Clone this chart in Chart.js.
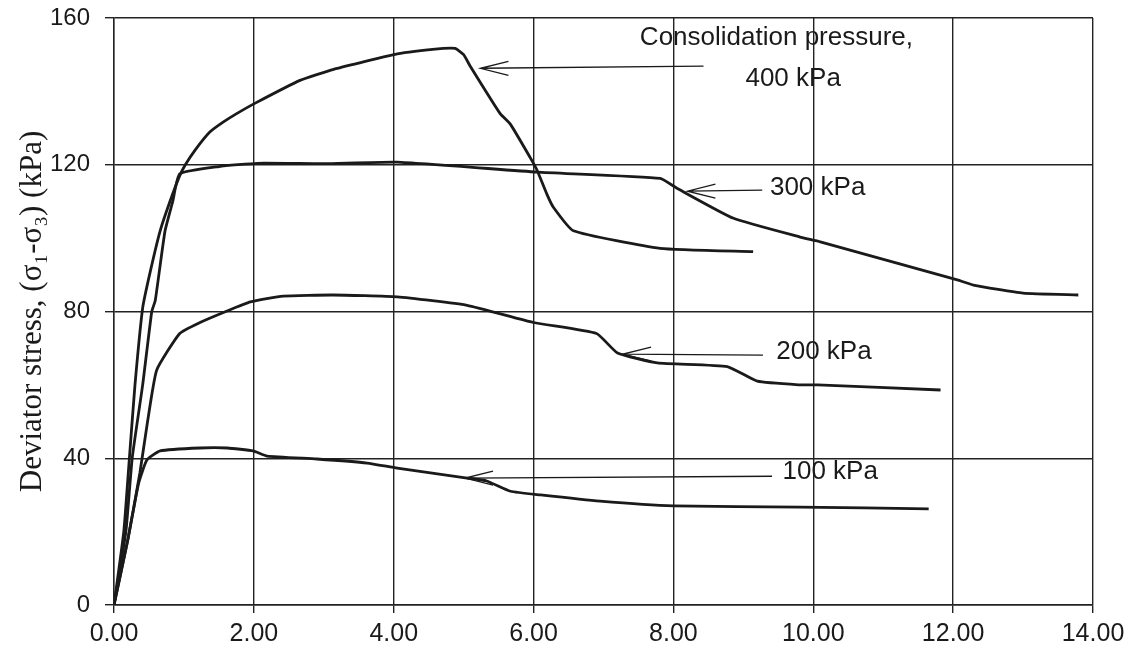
<!DOCTYPE html>
<html>
<head>
<meta charset="utf-8">
<script src="https://cdn.jsdelivr.net/npm/chart.js@4"></script>
<style>
  html, body { margin: 0; padding: 0; background: #fff; }
  #wrap { width: 1140px; height: 666px; }
</style>
</head>
<body>
<div id="wrap"><canvas id="chart"></canvas></div>
<script>
// axial strain (%) and deviator stress (kPa) for each consolidation pressure
const strain400 = [0, 0.14, 0.22, 0.30, 0.41, 0.52, 0.66, 0.80, 0.94, 1.02, 1.16, 1.37, 1.56, 1.76, 2.02, 2.66, 3.14, 4.05, 4.71, 4.88, 5.00, 5.09, 5.52, 5.67, 5.95, 6.05, 6.19, 6.28, 6.57, 7.81, 9.14];
const stress400 = [0, 20, 40, 60, 81, 91, 102, 110, 117, 120, 124, 128.9, 131.6, 134, 136.8, 143, 146, 150.2, 151.7, 151.7, 150, 147, 134, 131, 122, 118.5, 112, 108.5, 102, 97.2, 96.3];

const strain300 = [0, 0.17, 0.26, 0.41, 0.54, 0.59, 0.73, 0.84, 0.94, 1.50, 2.05, 3.00, 4.05, 6.05, 7.81, 8.05, 8.86, 9.81, 10.10, 12.06, 12.29, 13.00, 13.79];
const stress300 = [0, 20, 40, 60, 80, 83, 102, 110, 117.5, 119.5, 120.4, 120.3, 120.7, 118, 116.3, 113.6, 105.4, 100.3, 99, 88.6, 87.2, 85, 84.5];

const strain200 = [0, 0.20, 0.37, 0.48, 0.61, 0.94, 1.23, 1.60, 1.95, 2.42, 3.13, 4.05, 5.05, 6.00, 6.90, 7.20, 7.77, 8.77, 9.20, 9.81, 10.06, 11.82];
const stress200 = [0, 18, 36, 50, 64, 74, 77, 80, 82.6, 84.2, 84.5, 84, 81.7, 77, 74, 68.7, 66, 65, 61, 60, 60, 58.6];

const strain100 = [0, 0.20, 0.35, 0.47, 0.66, 1.23, 1.62, 1.99, 2.19, 2.90, 3.62, 4.05, 5.05, 5.33, 5.67, 6.10, 6.95, 8.00, 9.81, 11.65];
const stress100 = [0, 18, 33, 39.5, 42, 42.8, 42.8, 42, 40.6, 39.8, 38.7, 37.3, 34.6, 33.8, 31, 30, 28.3, 27, 26.7, 26.2];

const xTicks = [0, 2, 4, 6, 8, 10, 12, 14];
const yTicks = [0, 40, 80, 120, 160];

// labels with arrows, in data units
const notes = [
  { text: "Consolidation pressure,", x: 7.52, y: 154.5 },
  { text: "400 kPa", x: 9.03, y: 143.3, from: [8.43, 146.9], to: [5.24, 146.3] },
  { text: "300 kPa", x: 9.38, y: 113.6, from: [9.27, 113.1], to: [8.20, 112.8] },
  { text: "200 kPa", x: 9.47, y: 68.9, from: [9.28, 68.1], to: [7.28, 68.4] },
  { text: "100 kPa", x: 9.56, y: 36.2, from: [9.41, 35.1], to: [5.02, 34.6] }
];

const toPoints = (xs, ys) => xs.map((x, i) => ({ x: x, y: ys[i] }));

const lineStyle = {
  borderColor: "#1a1a1a",
  borderWidth: 2.8,
  pointRadius: 0,
  fill: false,
  tension: 0.15
};

const notePlugin = {
  id: "notes",
  afterDatasetsDraw(chart) {
    const ctx = chart.ctx;
    const xs = chart.scales.x, ys = chart.scales.y;
    ctx.save();
    ctx.fillStyle = "#1a1a1a";
    ctx.strokeStyle = "#1a1a1a";
    ctx.lineWidth = 1.3;
    ctx.font = "26px 'Liberation Sans', Arial, sans-serif";
    ctx.textBaseline = "middle";
    ctx.textAlign = "left";
    notes.forEach(n => {
      ctx.fillText(n.text, xs.getPixelForValue(n.x), ys.getPixelForValue(n.y));
      if (n.from) {
        const x1 = xs.getPixelForValue(n.from[0]), y1 = ys.getPixelForValue(n.from[1]);
        const x2 = xs.getPixelForValue(n.to[0]), y2 = ys.getPixelForValue(n.to[1]);
        ctx.beginPath();
        ctx.moveTo(x1, y1);
        ctx.lineTo(x2, y2);
        ctx.moveTo(x2 + 28, y2 - 7);
        ctx.lineTo(x2, y2);
        ctx.lineTo(x2 + 28, y2 + 7);
        ctx.stroke();
      }
    });
    ctx.restore();
  }
};

new Chart(document.getElementById("chart"), {
  type: "line",
  data: {
    datasets: [
      { label: "400 kPa", data: toPoints(strain400, stress400), ...lineStyle },
      { label: "300 kPa", data: toPoints(strain300, stress300), ...lineStyle },
      { label: "200 kPa", data: toPoints(strain200, stress200), ...lineStyle },
      { label: "100 kPa", data: toPoints(strain100, stress100), ...lineStyle }
    ]
  },
  options: {
    responsive: true,
    maintainAspectRatio: false,
    animation: false,
    layout: { padding: { left: 0, right: 47, top: 18, bottom: 0 } },
    plugins: { legend: { display: false }, tooltip: { enabled: false } },
    scales: {
      x: {
        type: "linear",
        min: 0,
        max: 14,
        afterBuildTicks: s => { s.ticks = xTicks.map(v => ({ value: v })); },
        afterFit: s => { s.height = 61; s.paddingLeft = 0; s.paddingRight = 0; },
        ticks: {
          color: "#1a1a1a",
          padding: 6,
          font: { family: "'Liberation Sans', Arial, sans-serif", size: 25 },
          callback: v => v.toFixed(2)
        },
        grid: { color: "#222", lineWidth: 1.4, tickLength: 8, tickColor: "#222" },
        border: { color: "#222", width: 1.4 }
      },
      y: {
        min: 0,
        max: 160,
        afterBuildTicks: s => { s.ticks = yTicks.map(v => ({ value: v })); },
        afterFit: s => { s.width = 114; s.paddingTop = 0; s.paddingBottom = 0; },
        ticks: {
          color: "#1a1a1a",
          padding: 15,
          font: { family: "'Liberation Sans', Arial, sans-serif", size: 24 }
        },
        grid: { color: "#222", lineWidth: 1.4, tickLength: 9, tickColor: "#222" },
        border: { color: "#222", width: 1.4 },
        title: {
          display: true,
          text: "Deviator stress, (\u03c3\u2081-\u03c3\u2083) (kPa)",
          color: "#1a1a1a",
          padding: { top: 14, bottom: 0 },
          font: { family: "'Liberation Serif', 'Times New Roman', serif", size: 31 }
        }
      }
    }
  },
  plugins: [notePlugin]
});
</script>
</body>
</html>
